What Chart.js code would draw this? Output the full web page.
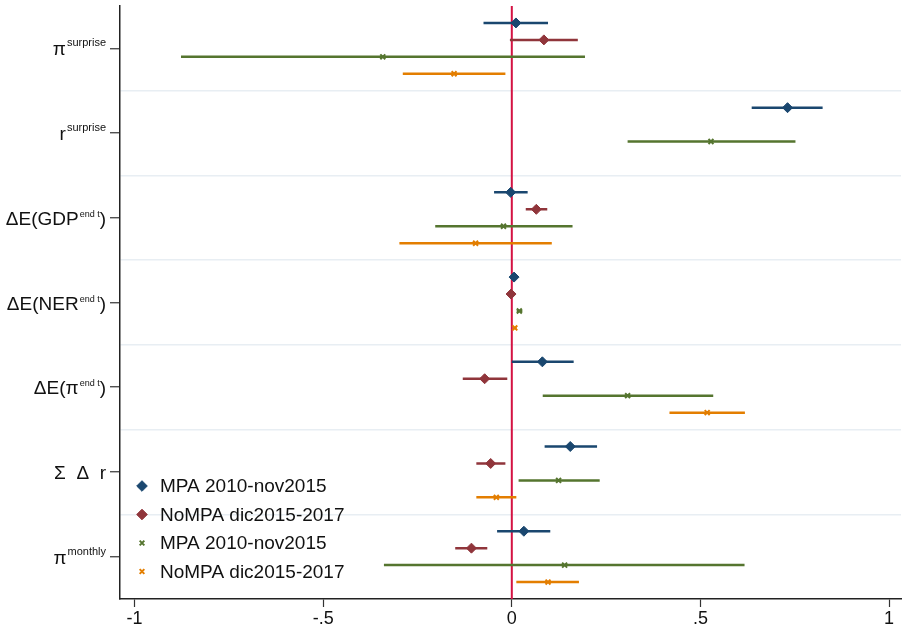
<!DOCTYPE html>
<html>
<head>
<meta charset="utf-8">
<title>Coefficient plot</title>
<script src="https://cdn.jsdelivr.net/npm/chart.js@4.4.1/dist/chart.umd.min.js"></script>
<style>
  html, body { margin: 0; padding: 0; background: #fff; overflow: hidden; }
  canvas { display: block; }
</style>
</head>
<body>
<canvas id="coefChart" width="907" height="628"></canvas>
<script>
// categories, top to bottom (superscripts drawn by the label plugin)
const labelBase = ['π', 'r', 'ΔE(GDP', 'ΔE(NER', 'ΔE(π', 'Σ  Δ  r', 'π'];
const labelSup  = ['surprise', 'surprise', 'end t', 'end t', 'end t', '', 'monthly'];
const labelTail = ['', '', ')', ')', ')', '', ''];

const seriesNames = ['MPA 2010-nov2015', 'NoMPA dic2015-2017', 'MPA 2010-nov2015', 'NoMPA dic2015-2017'];

// point estimates and confidence bounds (null = not estimated)
const blueCoef = [0.011, 0.731, -0.003, 0.006, 0.081, 0.155, 0.032];
const blueLo   = [-0.075, 0.636, -0.047, 0.002, 0.000, 0.087, -0.039];
const blueHi   = [0.096, 0.824, 0.042, 0.010, 0.164, 0.226, 0.102];

const redCoef = [0.085, null, 0.065, -0.002, -0.072, -0.056, -0.107];
const redLo   = [-0.005, null, 0.037, -0.005, -0.130, -0.094, -0.150];
const redHi   = [0.175, null, 0.094, 0.001, -0.012, -0.017, -0.065];

const greenCoef = [-0.342, 0.528, -0.022, 0.020, 0.307, 0.124, 0.140];
const greenLo   = [-0.877, 0.307, -0.203, 0.013, 0.082, 0.018, -0.339];
const greenHi   = [0.194, 0.752, 0.161, 0.028, 0.534, 0.233, 0.617];

const orangeCoef = [-0.153, null, -0.096, 0.008, 0.518, -0.041, 0.096];
const orangeLo   = [-0.289, null, -0.298, 0.004, 0.418, -0.094, 0.012];
const orangeHi   = [-0.017, null, 0.106, 0.013, 0.618, 0.012, 0.178];

const xTicks = [-1, -0.5, 0, 0.5, 1];
const xTickLabels = ['-1', '-.5', '0', '.5', '1'];
const zeroLine = 0;

// look
const FONT = "Arial, 'Liberation Sans', sans-serif";
const series = [
  { coef: blueCoef,   lo: blueLo,   hi: blueHi,   color: '#1a476f', style: 'rectRot',  radius: 5,   border: 1, off: -0.3 },
  { coef: redCoef,    lo: redLo,    hi: redHi,    color: '#90353b', style: 'rectRot',  radius: 5,   border: 1, off: -0.1 },
  { coef: greenCoef,  lo: greenLo,  hi: greenHi,  color: '#55752f', style: 'crossRot', radius: 3.5, border: 2, off: 0.1 },
  { coef: orangeCoef, lo: orangeLo, hi: orangeHi, color: '#e37e00', style: 'crossRot', radius: 3.5, border: 2, off: 0.3 }
];

const datasets = [];

// vertical reference line at zero
datasets.push({
  type: 'line',
  data: [{ x: zeroLine, y: 0 }, { x: zeroLine, y: labelBase.length }],
  borderColor: '#d41243',
  borderWidth: 2,
  pointRadius: 0,
  order: 10
});

series.forEach((s, k) => {
  const bars = [];
  const pts = [];
  s.coef.forEach((c, i) => {
    if (c === null) return;
    const yy = i + 0.5 + s.off;
    bars.push({ x: s.lo[i], y: yy }, { x: s.hi[i], y: yy }, { x: NaN, y: NaN });
    pts.push({ x: c, y: yy });
  });
  datasets.push({
    type: 'line',
    label: seriesNames[k] + ' CI',
    data: bars,
    borderColor: s.color,
    borderWidth: 2.5,
    pointRadius: 0,
    spanGaps: false,
    order: 5
  });
  datasets.push({
    type: 'scatter',
    label: seriesNames[k],
    data: pts,
    pointStyle: s.style,
    pointRadius: s.radius,
    pointBorderWidth: s.border,
    backgroundColor: s.color,
    borderColor: s.color,
    order: 1
  });
});

// y labels with superscripts
const richLabels = {
  id: 'richLabels',
  afterDraw(chart) {
    const ctx = chart.ctx;
    const yScale = chart.scales.y;
    const right = chart.chartArea.left - 14;
    ctx.save();
    ctx.fillStyle = '#111';
    ctx.textBaseline = 'alphabetic';
    ctx.textAlign = 'left';
    labelBase.forEach((base, i) => {
      const base_y = yScale.getPixelForValue(i + 0.5) + 7;
      const small = labelSup[i] === 'end t';
      const mainFont = '19px ' + FONT;
      const supFont = (small ? '9px ' : '11px ') + FONT;
      ctx.font = mainFont;
      const wBase = ctx.measureText(base).width;
      const wTail = ctx.measureText(labelTail[i]).width;
      ctx.font = supFont;
      const wSup = labelSup[i] ? ctx.measureText(labelSup[i]).width + 1 : 0;
      let x = right - wTail - wSup - wBase;
      ctx.font = mainFont;
      ctx.fillText(base, x, base_y);
      x += wBase;
      if (labelSup[i]) {
        ctx.font = supFont;
        ctx.fillText(labelSup[i], x + 1, base_y - (small ? 8 : 9));
        x += wSup;
      }
      ctx.font = mainFont;
      ctx.fillText(labelTail[i], x, base_y);
    });
    ctx.restore();
  }
};

// legend inside the plot, bottom left
const insideLegend = {
  id: 'insideLegend',
  afterDraw(chart) {
    const ctx = chart.ctx;
    const area = chart.chartArea;
    ctx.save();
    ctx.font = '19px ' + FONT;
    ctx.textBaseline = 'middle';
    ctx.textAlign = 'left';
    seriesNames.forEach((name, k) => {
      const s = series[k];
      const cy = area.bottom - 113 + k * 28.5;
      ctx.fillStyle = s.color;
      ctx.strokeStyle = s.color;
      ctx.lineWidth = s.border;
      Chart.helpers.drawPoint(ctx, {
        pointStyle: s.style,
        radius: s.style === 'rectRot' ? 5.3 : 3.3,
        borderWidth: s.border
      }, area.left + 22, cy);
      ctx.fillStyle = '#111';
      ctx.fillText(name, area.left + 40, cy + 1);
    });
    ctx.restore();
  }
};

new Chart(document.getElementById('coefChart'), {
  type: 'scatter',
  data: { datasets: datasets },
  options: {
    responsive: false,
    animation: false,
    devicePixelRatio: 1,
    layout: { padding: { left: 0, top: 5, right: 1, bottom: 0 } },
    plugins: {
      legend: { display: false },
      tooltip: { enabled: false }
    },
    scales: {
      x: {
        type: 'linear',
        min: -1.0387,
        max: 1.0318,
        afterBuildTicks(scale) {
          scale.ticks = xTicks.map(v => ({ value: v }));
        },
        afterFit(scale) {
          scale.height = 29;
          scale.paddingLeft = 0;
          scale.paddingRight = 0;
        },
        ticks: {
          color: '#111',
          font: { family: FONT, size: 18 },
          padding: 1,
          maxRotation: 0,
          callback: (v) => xTickLabels[xTicks.indexOf(v)]
        },
        grid: {
          drawOnChartArea: false,
          drawTicks: true,
          tickLength: 8,
          tickColor: '#333',
          tickWidth: 1.2
        },
        border: { display: true, color: '#222', width: 1.5 }
      },
      y: {
        type: 'linear',
        reverse: true,
        min: 0,
        max: labelBase.length,
        afterBuildTicks(scale) {
          const t = [];
          for (let k = 0; k <= labelBase.length * 2; k++) t.push({ value: k / 2 });
          scale.ticks = t;
        },
        afterFit(scale) {
          scale.width = 120;
          scale.paddingTop = 0;
          scale.paddingBottom = 0;
        },
        ticks: { display: false },
        grid: {
          drawTicks: true,
          tickLength: 10,
          lineWidth: 1.5,
          color: (c) => {
            const v = c.tick ? c.tick.value : 0;
            return (Number.isInteger(v) && v > 0 && v < labelBase.length) ? '#e8eef3' : 'rgba(0,0,0,0)';
          },
          tickColor: (c) => {
            const v = c.tick ? c.tick.value : 0;
            return Number.isInteger(v) ? 'rgba(0,0,0,0)' : '#333';
          },
          tickWidth: 1.2
        },
        border: { display: true, color: '#222', width: 1.5 }
      }
    }
  },
  plugins: [richLabels, insideLegend]
});
</script>
</body>
</html>
